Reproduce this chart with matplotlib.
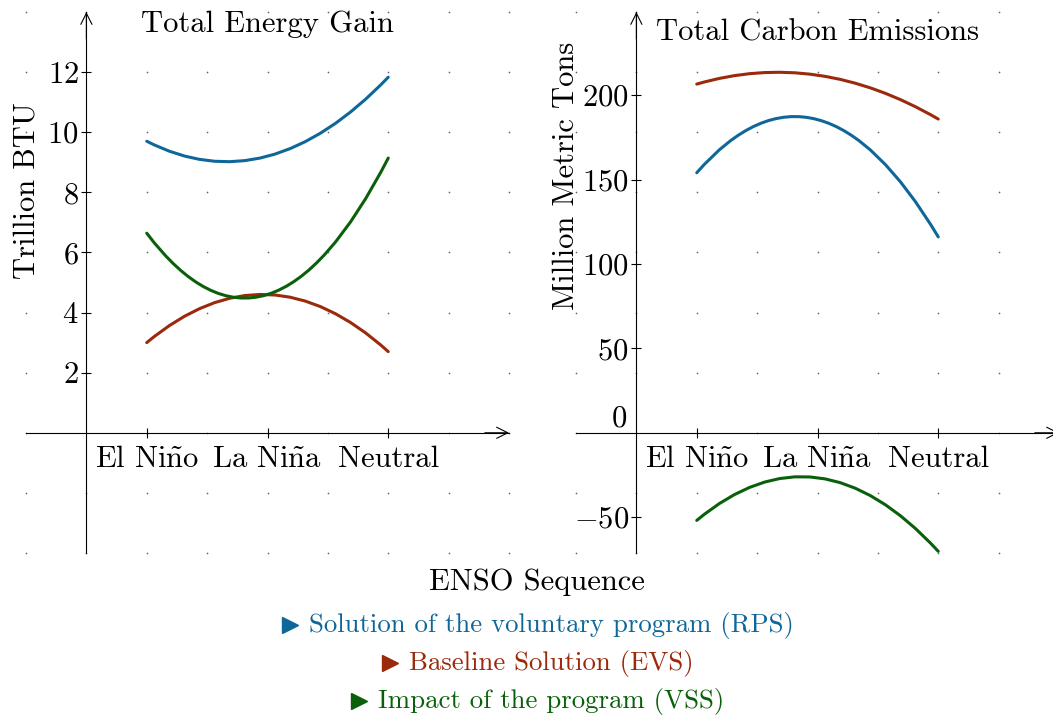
import matplotlib
matplotlib.use("Agg")
import matplotlib.pyplot as plt
import numpy as np
from matplotlib.path import Path
from matplotlib.patches import PathPatch
from matplotlib.lines import Line2D

plt.rcParams['font.family'] = ['cmr10', 'DejaVu Serif', 'DejaVu Sans']
plt.rcParams['mathtext.fontset'] = 'cm'
plt.rcParams['axes.formatter.use_mathtext'] = True

# data
seasons = [r'El Ni$\tilde{\mathrm{n}}$o', r'La Ni$\tilde{\mathrm{n}}$a', 'Neutral']
season_x = [1, 3, 5]

energy_rps = [9.7, 9.2, 11.83]
energy_evs = [3.0, 4.6, 2.7]
energy_vss = [6.64, 4.6, 9.14]

carbon_rps = [154.0, 185.5, 116.0]
carbon_evs = [206.5, 211.8, 185.8]
carbon_vss = [-51.9, -26.6, -70.2]

energy_yticks = [2, 4, 6, 8, 10, 12]
carbon_yticks = [-50, 50, 100, 150, 200]

legend_labels = ['Solution of the voluntary program (RPS)',
                 'Baseline Solution (EVS)',
                 'Impact of the program (VSS)']

BLUE = '#0f6799'
RED = '#9b290b'
GREEN = '#0a600a'
colors = [BLUE, RED, GREEN]
FS = 22
LEG_FS = 19.3

W, H = 1053, 715
fig = plt.figure(figsize=(W / 100, H / 100), dpi=100)


def smooth_curve(ax, xs, ys, color):
    # parabola through the three points as one quadratic bezier
    cx = 2 * xs[1] - (xs[0] + xs[2]) / 2
    cy = 2 * ys[1] - (ys[0] + ys[2]) / 2
    path = Path([(xs[0], ys[0]), (cx, cy), (xs[2], ys[2])],
                [Path.MOVETO, Path.CURVE3, Path.CURVE3])
    ax.add_patch(PathPatch(path, facecolor='none', edgecolor=color, lw=2.2,
                           capstyle='round', zorder=3))


def setup(ax, ylim, grid_y):
    ax.set_xlim(-1, 7)
    ax.set_ylim(*ylim)
    for s in ['top', 'right']:
        ax.spines[s].set_visible(False)
    ax.spines['left'].set_position(('data', 0))
    ax.spines['bottom'].set_position(('data', 0))
    for s in ['left', 'bottom']:
        ax.spines[s].set_linewidth(0.8)
    ax.patch.set_visible(False)
    # arrow heads
    arrow = dict(arrowstyle='->', lw=0.8, shrinkA=0, shrinkB=0, mutation_scale=20)
    ax.annotate('', xy=(7, 0), xytext=(6.6, 0), arrowprops=arrow,
                annotation_clip=False)
    ax.annotate('', xy=(0, ylim[1]), xytext=(0, ylim[1] - 0.05 * (ylim[1] - ylim[0])),
                arrowprops=arrow, annotation_clip=False)
    gx, gy = np.meshgrid(np.arange(-1, 7.01, 1), grid_y)
    ax.scatter(gx.ravel(), gy.ravel(), s=1.5, color='#666666', lw=0, zorder=1,
               clip_on=False)
    ax.set_xticks(season_x)
    ax.set_xticklabels(seasons, fontsize=FS)
    ax.tick_params(axis='x', direction='inout', length=7, width=0.8, pad=6)
    ax.tick_params(axis='y', direction='inout', length=7, width=0.8, pad=2,
                   labelsize=FS)


# left panel
ax1 = fig.add_axes([26 / W, 1 - 553 / H, 483 / W, 541 / H])
setup(ax1, (-4, 14), np.arange(-4, 14.01, 2))
ax1.set_yticks(energy_yticks)
for vals, c in zip([energy_rps, energy_evs, energy_vss], colors):
    smooth_curve(ax1, season_x, vals, c)
ax1.text(0.5, 0.978, 'Total Energy Gain', transform=ax1.transAxes,
         ha='center', va='center', fontsize=FS)
fig.text(27 / W, 1 - 191 / H, 'Trillion BTU', rotation=90, ha='center',
         va='center', fontsize=FS)

# right panel
ax2 = fig.add_axes([576 / W, 1 - 553 / H, 483 / W, 541 / H])
step = 35.6
setup(ax2, (-2 * step, 7 * step), np.arange(-2, 7.01, 1) * step)
ax2.set_yticks(carbon_yticks)
ax2.text(-0.15, 0, '0', ha='right', va='bottom', fontsize=FS)
for vals, c in zip([carbon_rps, carbon_evs, carbon_vss], colors):
    smooth_curve(ax2, season_x, vals, c)
ax2.text(0.5, 0.962, 'Total Carbon Emissions', transform=ax2.transAxes,
         ha='center', va='center', fontsize=FS)
fig.text(566 / W, 1 - 176 / H, 'Million Metric Tons', rotation=90, ha='center',
         va='center', fontsize=FS)

# shared x label and legend
fig.text(537 / W, 1 - 582 / H, 'ENSO Sequence', ha='center', va='center',
         fontsize=FS)
renderer = fig.canvas.get_renderer()
for i, (lab, c) in enumerate(zip(legend_labels, colors)):
    base = 632 + 38 * i
    t = fig.text(0, 1 - base / H, lab, ha='left', va='baseline',
                 fontsize=LEG_FS, color=c)
    w = t.get_window_extent(renderer).width
    start = 537.5 - (16 + 11 + w) / 2
    t.set_x((start + 27) / W)
    fig.add_artist(Line2D([(start + 8) / W], [1 - (base - 7) / H], marker='>',
                          markersize=11, color=c, linestyle='none',
                          transform=fig.transFigure))

fig.savefig('out.png', dpi=100)
